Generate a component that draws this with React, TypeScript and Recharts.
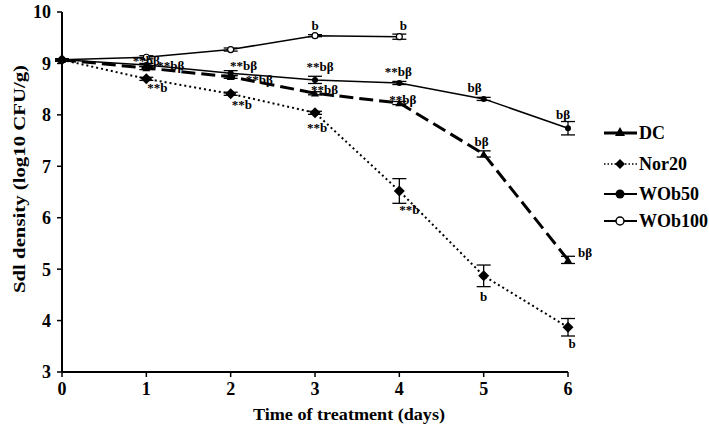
import { LineChart, Line, XAxis, YAxis, ErrorBar, LabelList } from 'recharts';

const FONT = '"Liberation Serif", "Times New Roman", serif';

const days = [0, 1, 2, 3, 4, 5, 6];

const dcValues = [9.07, 8.91, 8.74, 8.42, 8.23, 7.24, 5.18];
const dcErrors = [0.02, 0.03, 0.03, 0.03, 0.03, 0.06, 0.07];
const dcMarks = ['', '**bβ', '**bβ', '**bβ', '**bβ', 'bβ', 'bβ'];

const nor20Values = [9.07, 8.7, 8.41, 8.04, 6.52, 4.87, 3.87];
const nor20Errors = [0.02, 0.03, 0.03, 0.03, 0.24, 0.21, 0.17];
const nor20Marks = ['', '**b', '**b', '**b', '**b', 'b', 'b'];

const wob50Values = [9.07, 8.97, 8.81, 8.68, 8.62, 8.31, 7.74];
const wob50Errors = [0.02, 0.03, 0.05, 0.07, 0.03, 0.03, 0.13];
const wob50Marks = ['', '**bβ', '**bβ', '**bβ', '**bβ', 'bβ', 'bβ'];

// WOb100 stops after day 4
const wob100Days = [0, 1, 2, 3, 4];
const wob100Values = [9.07, 9.12, 9.27, 9.54, 9.52];
const wob100Errors = [0.02, 0.03, 0.03, 0.02, 0.05];
const wob100Marks = ['', '', '', 'b', 'b'];

const yTicks = [3, 4, 5, 6, 7, 8, 9, 10];

type Row = { day: number; value: number; err: number; mark: string };

const toRows = (xs: number[], vals: number[], errs: number[], marks: string[]): Row[] =>
  xs.map((d, i) => ({ day: d, value: vals[i], err: errs[i], mark: marks[i] }));

const dcData = toRows(days, dcValues, dcErrors, dcMarks);
const nor20Data = toRows(days, nor20Values, nor20Errors, nor20Marks);
const wob50Data = toRows(days, wob50Values, wob50Errors, wob50Marks);
const wob100Data = toRows(wob100Days, wob100Values, wob100Errors, wob100Marks);

// label placement relative to each point: [dx, dy, anchor]
type Place = [number, number, 'start' | 'middle' | 'end'];
const dcPlace: Place[] = [[0, 0, 'middle'], [11, -3, 'start'], [15, 3, 'start'], [-4, -4, 'start'], [-10, -4, 'start'], [-2, -12, 'middle'], [10, -7, 'start']];
const nor20Place: Place[] = [[0, 0, 'middle'], [1, 9, 'start'], [1, 11, 'start'], [2, 15, 'middle'], [0, 19, 'start'], [0, 21, 'middle'], [4, 16, 'middle']];
const wob50Place: Place[] = [[0, 0, 'middle'], [0, -4, 'middle'], [13, -8, 'middle'], [5, -13, 'middle'], [-1, -11, 'middle'], [-9, -11, 'middle'], [-5, -14, 'middle']];
const wob100Place: Place[] = [[0, 0, 'middle'], [0, 0, 'middle'], [0, 0, 'middle'], [0, -10, 'middle'], [4, -11, 'middle']];

const markLabel = (place: Place[]) => (props: any) => {
  const { x, y, value, index } = props;
  if (!value || x == null || y == null) return null;
  const [dx, dy, anchor] = place[index] || [0, 0, 'middle'];
  return (
    <text
      x={x + dx}
      y={y + dy}
      textAnchor={anchor}
      dominantBaseline="central"
      fontFamily={FONT}
      fontWeight="bold"
      fontSize={13}
      fill="#000"
    >
      {value}
    </text>
  );
};

const triangle = (cx: number, cy: number, s: number) =>
  `${cx},${cy - s} ${cx + s},${cy + s * 0.8} ${cx - s},${cy + s * 0.8}`;
const diamond = (cx: number, cy: number, s: number) =>
  `${cx},${cy - s} ${cx + s},${cy} ${cx},${cy + s} ${cx - s},${cy}`;

const dcDot = (p: any) =>
  p.cx == null ? <g key={p.key} /> : <polygon key={p.key} points={triangle(p.cx, p.cy, 4)} fill="#000" />;
const nor20Dot = (p: any) =>
  p.cx == null ? <g key={p.key} /> : <polygon key={p.key} points={diamond(p.cx, p.cy, 5.5)} fill="#000" />;
const wob50Dot = (p: any) =>
  p.cx == null ? <g key={p.key} /> : <circle key={p.key} cx={p.cx} cy={p.cy} r={3} fill="#000" />;
const wob100Dot = (p: any) =>
  p.cx == null ? <g key={p.key} /> : <circle key={p.key} cx={p.cx} cy={p.cy} r={3} fill="#fff" stroke="#000" strokeWidth={1.2} />;

const legendRows = ['DC', 'Nor20', 'WOb50', 'WOb100'];
const legendY = [11, 42, 72, 99];

const LegendBox = () => (
  <svg width={106} height={112} style={{ position: 'absolute', left: 603, top: 122 }}>
    {legendRows.map((name, i) => {
      const y = legendY[i];
      const mx = 17;
      let line;
      let marker;
      if (name === 'DC') {
        line = <line x1={1} x2={34} y1={y} y2={y} stroke="#000" strokeWidth={3} />;
        marker = <polygon points={triangle(mx, y - 1, 5)} fill="#000" />;
      } else if (name === 'Nor20') {
        line = <line x1={1} x2={34} y1={y} y2={y} stroke="#000" strokeWidth={1.5} strokeDasharray="1.5 2" />;
        marker = <polygon points={diamond(mx, y, 5)} fill="#000" />;
      } else if (name === 'WOb50') {
        line = <line x1={1} x2={34} y1={y} y2={y} stroke="#000" strokeWidth={2} />;
        marker = <circle cx={mx} cy={y} r={4.5} fill="#000" />;
      } else {
        line = <line x1={1} x2={34} y1={y} y2={y} stroke="#000" strokeWidth={2} />;
        marker = <circle cx={mx} cy={y} r={4} fill="#fff" stroke="#000" strokeWidth={1.5} />;
      }
      return (
        <g key={name}>
          {line}
          {marker}
          <text x={36} y={y} dominantBaseline="central" fontFamily={FONT} fontWeight="bold" fontSize={18} fill="#000">
            {name}
          </text>
        </g>
      );
    })}
  </svg>
);

const YTitle = (props: any) => {
  const vb = props.viewBox || {};
  const cx = 19;
  const cy = (vb.y ?? 12) + (vb.height ?? 360) / 2 - 13;
  return (
    <text
      x={cx}
      y={cy}
      transform={`rotate(-90 ${cx} ${cy})`}
      textAnchor="middle"
      dominantBaseline="central"
      fontFamily={FONT}
      fontWeight="bold"
      fontSize={17}
      textLength={228}
      lengthAdjust="spacingAndGlyphs"
      fill="#000"
    >
      Sdl density (log10 CFU/g)
    </text>
  );
};

const XTitle = (props: any) => {
  const vb = props.viewBox || {};
  const cx = (vb.x ?? 62) + (vb.width ?? 506) / 2 + 34;
  return (
    <text
      x={cx}
      y={414}
      textAnchor="middle"
      dominantBaseline="central"
      fontFamily={FONT}
      fontWeight="bold"
      fontSize={17}
      textLength={192}
      lengthAdjust="spacingAndGlyphs"
      fill="#000"
    >
      Time of treatment (days)
    </text>
  );
};

const xTickStyle = { fill: '#000', fontSize: 18, fontWeight: 'bold', fontFamily: FONT, dy: 3 };
const yTickStyle = { fill: '#000', fontSize: 18, fontWeight: 'bold', fontFamily: FONT, dx: -4 };

export default function App() {
  return (
    <div style={{ position: 'absolute', left: 0, top: 0, width: 709, height: 426, background: '#fff' }}>
      <LineChart width={709} height={426} margin={{ top: 12, right: 141, bottom: 10, left: 18 }}>
        <XAxis
          type="number"
          dataKey="day"
          domain={[0, 6]}
          ticks={days}
          interval={0}
          allowDuplicatedCategory={false}
          axisLine={{ stroke: '#000', strokeWidth: 2 }}
          tickLine={{ stroke: '#000', strokeWidth: 1.5 }}
          tickSize={5}
          tick={xTickStyle}
          height={44}
          label={<XTitle />}
        />
        <YAxis
          type="number"
          domain={[3, 10]}
          ticks={yTicks}
          interval={0}
          width={44}
          axisLine={{ stroke: '#000', strokeWidth: 2 }}
          tickLine={{ stroke: '#000', strokeWidth: 1.5 }}
          tickSize={5}
          tick={yTickStyle}
          label={<YTitle />}
        />
        <Line
          data={wob100Data}
          dataKey="value"
          name="WOb100"
          stroke="#000"
          strokeWidth={1.5}
          dot={wob100Dot}
          isAnimationActive={false}
        >
          <ErrorBar dataKey="err" direction="y" width={7} stroke="#000" strokeWidth={1.3} />
          <LabelList dataKey="mark" content={markLabel(wob100Place)} />
        </Line>
        <Line
          data={wob50Data}
          dataKey="value"
          name="WOb50"
          stroke="#000"
          strokeWidth={1.5}
          dot={wob50Dot}
          isAnimationActive={false}
        >
          <ErrorBar dataKey="err" direction="y" width={7} stroke="#000" strokeWidth={1.3} />
          <LabelList dataKey="mark" content={markLabel(wob50Place)} />
        </Line>
        <Line
          data={dcData}
          dataKey="value"
          name="DC"
          stroke="#000"
          strokeWidth={3}
          strokeDasharray="14 6"
          dot={dcDot}
          isAnimationActive={false}
        >
          <ErrorBar dataKey="err" direction="y" width={7} stroke="#000" strokeWidth={1.3} />
          <LabelList dataKey="mark" content={markLabel(dcPlace)} />
        </Line>
        <Line
          data={nor20Data}
          dataKey="value"
          name="Nor20"
          stroke="#000"
          strokeWidth={2}
          strokeDasharray="2 3"
          dot={nor20Dot}
          isAnimationActive={false}
        >
          <ErrorBar dataKey="err" direction="y" width={7} stroke="#000" strokeWidth={1.3} />
          <LabelList dataKey="mark" content={markLabel(nor20Place)} />
        </Line>
      </LineChart>
      <LegendBox />
    </div>
  );
}
